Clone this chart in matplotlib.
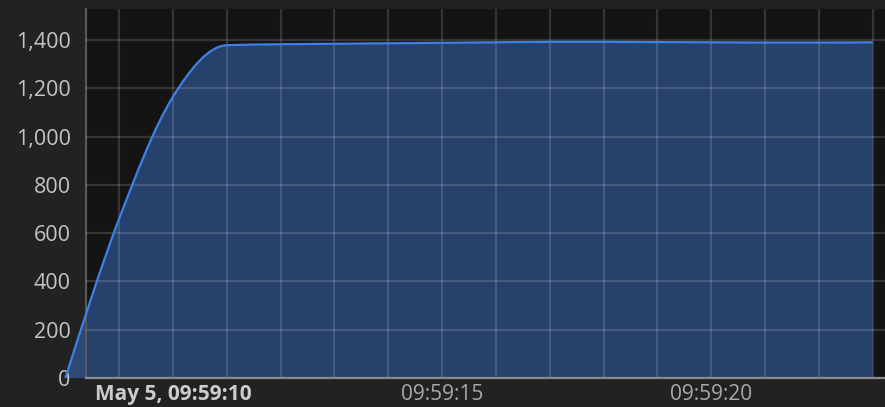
import numpy as np
import matplotlib
matplotlib.use("Agg")
import matplotlib.pyplot as plt
from matplotlib.path import Path
from matplotlib.patches import PathPatch
from matplotlib.ticker import FixedLocator, FuncFormatter

# Data: seconds after 09:59:00 on May 5
seconds = [8, 9, 10, 11, 12, 13, 14, 15, 16, 17, 18, 19, 20, 21, 22, 23]
values = [0, 660, 1165, 1378, 1382, 1384, 1386, 1388, 1390, 1392, 1392, 1391, 1390, 1389, 1389, 1390]
yticks = [0, 200, 400, 600, 800, 1000, 1200, 1400]
xtick_secs = [10, 15, 20]
xtick_labels = ["May 5, 09:59:10", "09:59:15", "09:59:20"]

plt.rcParams['font.family'] = ['Open Sans', 'DejaVu Sans']

W, H = 885, 407
fig = plt.figure(figsize=(W / 100, H / 100), dpi=100, facecolor='#222222')
ax = fig.add_axes([86 / W, 29 / H, 1 - 86 / W, (378 - 9) / H])
ax.set_facecolor('#141414')

x = np.asarray(seconds, float)
y = np.asarray(values, float)


def monotone_tangents(x, y):
    n = len(x)
    h = np.diff(x)
    s = np.diff(y) / h
    m = np.zeros(n)
    for i in range(1, n - 1):
        p = (s[i - 1] * h[i] + s[i] * h[i - 1]) / (h[i - 1] + h[i])
        m[i] = (np.sign(s[i - 1]) + np.sign(s[i])) * min(abs(s[i - 1]), abs(s[i]), 0.5 * abs(p))
    m[0] = (3 * s[0] - m[1]) / 2
    m[-1] = (3 * s[-1] - m[-2]) / 2
    return m


m = monotone_tangents(x, y)
verts = [(x[0], y[0])]
codes = [Path.MOVETO]
for i in range(len(x) - 1):
    h = x[i + 1] - x[i]
    verts += [(x[i] + h / 3, y[i] + m[i] * h / 3),
              (x[i + 1] - h / 3, y[i + 1] - m[i + 1] * h / 3),
              (x[i + 1], y[i + 1])]
    codes += [Path.CURVE4] * 3

line_color = '#3f80e6'
fill_verts = verts + [(x[-1], 0), (x[0], 0), (x[0], y[0])]
fill_codes = codes + [Path.LINETO, Path.LINETO, Path.CLOSEPOLY]
fill = PathPatch(Path(fill_verts, fill_codes), facecolor=line_color, alpha=0.42,
                 edgecolor='none', zorder=1, clip_on=False)
ax.add_patch(fill)
line = PathPatch(Path(verts, codes), facecolor='none', edgecolor=line_color,
                 linewidth=1.6, zorder=3, clip_on=False)
ax.add_patch(line)

ax.set_xlim(8.383, 23.23)
ax.set_ylim(0, 1528)

ax.xaxis.set_major_locator(FixedLocator(xtick_secs))
ax.xaxis.set_minor_locator(FixedLocator(list(range(9, 24))))
ax.set_xticklabels(xtick_labels)
ax.yaxis.set_major_locator(FixedLocator(yticks))
ax.yaxis.set_major_formatter(FuncFormatter(lambda v, p: f"{int(v):,}"))

ax.grid(True, which='both', axis='x', color='white', alpha=0.14, linewidth=1.6, zorder=2)
ax.grid(True, which='major', axis='y', color='white', alpha=0.14, linewidth=1.6, zorder=2)
ax.set_axisbelow(False)

ax.tick_params(axis='both', which='both', length=0)
ax.tick_params(axis='y', pad=11, labelsize=15.5, labelcolor='#c4c4c4')
ax.tick_params(axis='x', pad=4, labelsize=15, labelcolor='#a8a8a8')
for lbl in ax.get_xticklabels():
    if lbl.get_text().startswith('May'):
        lbl.set_fontweight('bold')
        lbl.set_color('#cccccc')

for side in ['top', 'right']:
    ax.spines[side].set_visible(False)
ax.spines['left'].set_color('#5a5a5a')
ax.spines['left'].set_linewidth(1.5)
ax.spines['bottom'].set_color('#8c8c8c')
ax.spines['bottom'].set_linewidth(1.6)
ax.spines['bottom'].set_zorder(4)

fig.savefig('out.png', dpi=100, facecolor=fig.get_facecolor())
